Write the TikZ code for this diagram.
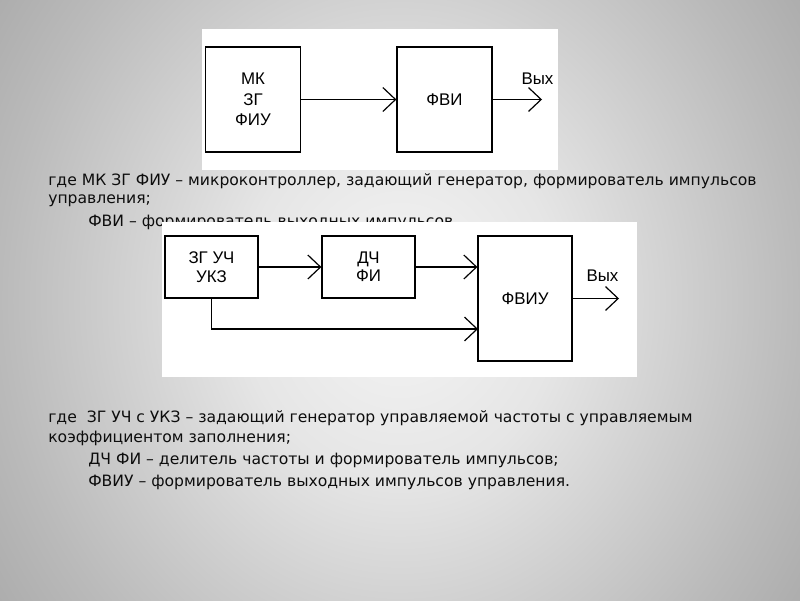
\documentclass[tikz,border=0pt]{standalone}
\usepackage{fontspec}
\setmainfont{DejaVu Sans}
\newfontfamily\boxfont{Liberation Sans}
\usetikzlibrary{arrows.meta}
\definecolor{c0}{gray}{0.96}
\definecolor{c1}{gray}{0.90}
\definecolor{c2}{gray}{0.73}
\definecolor{c3}{gray}{0.58}
\definecolor{c4}{gray}{0.51}
\definecolor{c5}{gray}{0.47}
\definecolor{c6}{gray}{0.43}
\definecolor{ink}{gray}{0.05}
\pgfdeclareradialshading{bgshade}{\pgfpoint{0bp}{0bp}}{color(0bp)=(c0); color(10bp)=(c1); color(25bp)=(c2); color(40bp)=(c3); color(50bp)=(c4); color(60bp)=(c5); color(75bp)=(c6)}
\tikzset{
  txt/.style={anchor=base west, inner sep=0pt, text=ink, font=\fontsize{11.1pt}{14pt}\selectfont},
  blk/.style={draw=black, line width=0.85pt, fill=white, align=center, inner sep=0pt,
    font=\boxfont\fontsize{12pt}{14.6pt}\selectfont},
  lbl/.style={inner sep=0pt, font=\boxfont\fontsize{12pt}{14pt}\selectfont},
  arr/.style={draw=black, line width=0.85pt, -{Straight Barb[length=9pt,width=17pt,line width=0.85pt]}},
  panel/.style={fill=white, draw=none}
}
\begin{document}
\begin{tikzpicture}[x=0.025cm,y=-0.025cm]
\useasboundingbox (0,0) rectangle (800,600);
\begin{scope}
  \clip (0,0) rectangle (800,600);
  \shade[shading=bgshade] (0,-150) rectangle (800,750);
\end{scope}

% text block 1
\node[txt] (t1) at (48,185) {где МК ЗГ ФИУ – микроконтроллер, задающий генератор, формирователь импульсов};
\node[txt] (t2) at (48,203) {управления;};
\node[txt] (t3) at (88,226) {ФВИ – формирователь выходных импульсов};

% text block 2
\node[txt] (u1) at (48,422) {где\ \ ЗГ УЧ с УКЗ – задающий генератор управляемой частоты с управляемым};
\node[txt] (u2) at (48,442) {коэффициентом заполнения;};
\node[txt] (u3) at (88,464) {ДЧ ФИ – делитель частоты и формирователь импульсов;};
\node[txt] (u4) at (88,486) {ФВИУ – формирователь выходных импульсов управления.};

% panel 1
\fill[panel] (202,29) rectangle (558,170);
\node[blk, minimum width=2.375cm, minimum height=2.625cm] (mk) at (253,99.5) {МК\\ЗГ\\ФИУ};
\node[blk, minimum width=2.375cm, minimum height=2.625cm] (fvi) at (444.5,99.5) {ФВИ};
\coordinate (out1) at (542,99.5);
\node[lbl] (vyx1) at (537.5,79) {Вых};
\draw[arr] (mk.east) -- (fvi.west);
\draw[arr] (fvi.east) -- (out1);

% panel 2
\fill[panel] (162,222) rectangle (637,377);
\node[blk, minimum width=2.325cm, minimum height=1.55cm] (zg) at (211.5,267) {ЗГ УЧ\\[-1.5pt]УКЗ};
\node[blk, minimum width=2.325cm, minimum height=1.55cm] (dch) at (368.5,267) {ДЧ\\[-1.5pt]ФИ};
\node[blk, minimum width=2.35cm, minimum height=3.125cm] (fviu) at (525,298.5) {ФВИУ};
\coordinate (out2) at (619,298.5);
\coordinate (low) at (478,329);
\node[lbl] (vyx2) at (602.5,276) {Вых};
\draw[arr] (zg.east) -- (dch.west);
\draw[arr] (dch.east) -- (dch.east -| fviu.west);
\draw[arr] (zg.south) |- (low);
\draw[arr] (fviu.east) -- (out2);
\end{tikzpicture}
\end{document}
